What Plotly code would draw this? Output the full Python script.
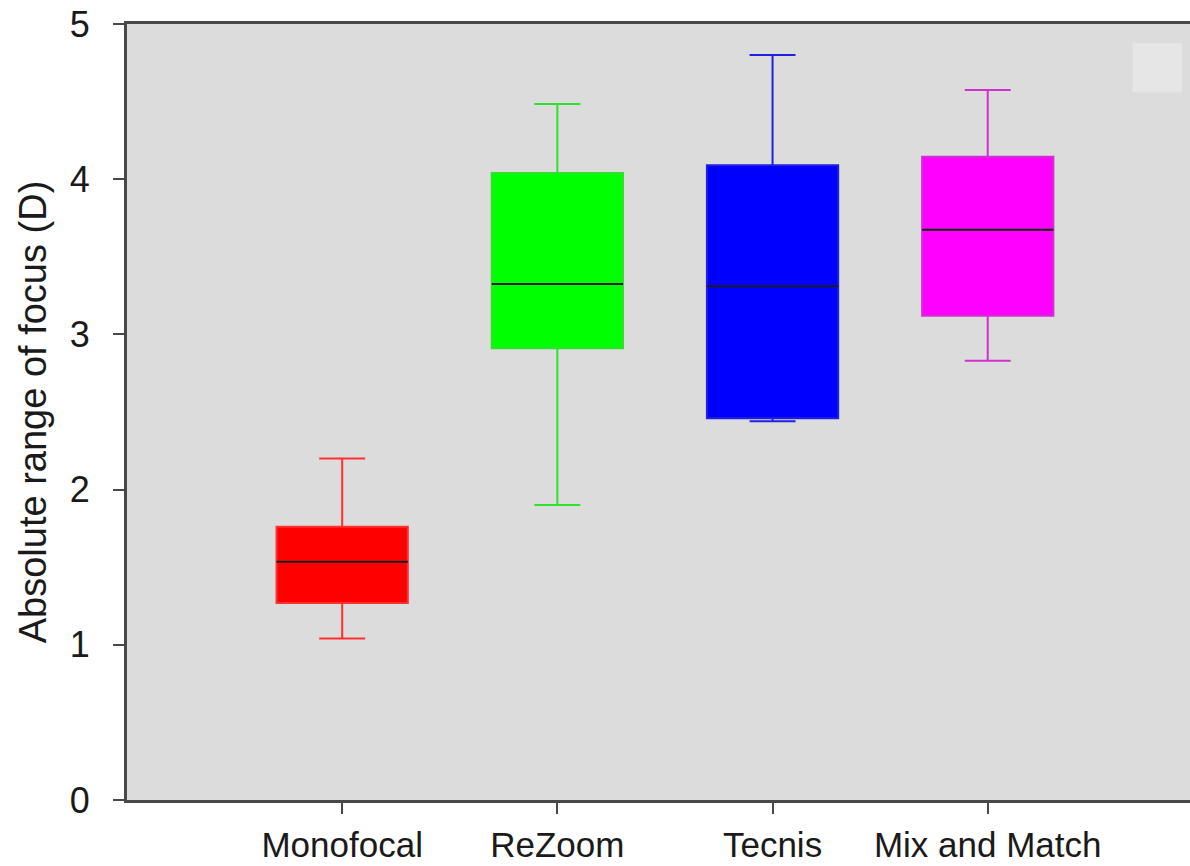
import plotly.graph_objects as go

categories = ["Monofocal", "ReZoom", "Tecnis", "Mix and Match"]
lower_whisker = [1.04, 1.90, 2.44, 2.83]
q1_values = [1.27, 2.91, 2.46, 3.12]
median_values = [1.535, 3.325, 3.31, 3.675]
q3_values = [1.76, 4.04, 4.09, 4.145]
upper_whisker = [2.20, 4.485, 4.80, 4.575]
colors = ["#ff0000", "#00ff00", "#0000ff", "#ff00ff"]
whisker_colors = ["#ff3030", "#30e030", "#2020e0", "#d030d0"]
y_ticks = [0, 1, 2, 3, 4, 5]

BOX_W = 0.61
FONT = "Liberation Sans, Arial, sans-serif"

fig = go.Figure()
for i, cat in enumerate(categories):
    fig.add_trace(go.Box(
        x=[i], q1=[q1_values[i]], median=[median_values[i]], q3=[q3_values[i]],
        lowerfence=[lower_whisker[i]], upperfence=[upper_whisker[i]],
        name=cat, width=BOX_W, whiskerwidth=0.35,
        fillcolor=colors[i], line=dict(color=whisker_colors[i], width=2),
        boxpoints=False, showlegend=False, hoverinfo="skip",
    ))
    fig.add_trace(go.Scatter(
        x=[i - BOX_W / 2, i + BOX_W / 2], y=[median_values[i], median_values[i]],
        mode="lines", line=dict(color="#1a1a1a", width=2),
        showlegend=False, hoverinfo="skip",
    ))

fig.update_layout(
    width=1190, height=866,
    margin=dict(l=127, r=0, t=24, b=66),
    paper_bgcolor="white", plot_bgcolor="#dcdcdc",
    font=dict(family=FONT, size=36, color="#1a1a1a"),
    xaxis=dict(
        range=[-1.0, 3.94], tickvals=list(range(len(categories))), ticktext=categories,
        showgrid=False, zeroline=False, showline=True, linecolor="#484848", linewidth=3,
        mirror=True, ticks="outside", ticklen=11, tickwidth=2, tickcolor="#484848",
        tickfont=dict(size=35), ticklabelstandoff=1, automargin=False,
    ),
    yaxis=dict(
        range=[0, 5], tickvals=y_ticks, showgrid=False, zeroline=False,
        showline=True, linecolor="#484848", linewidth=3,
        ticks="outside", ticklen=11, tickwidth=2, tickcolor="#484848",
        tickfont=dict(size=36), ticklabelstandoff=16, automargin=False,
        title=dict(text="Absolute range of focus (D)", font=dict(size=38), standoff=12),
    ),
    shapes=[dict(type="rect", xref="paper", yref="paper", x0=0.946, x1=0.9925,
                 y0=0.912, y1=0.9755, fillcolor="#e6e6e6", line=dict(width=0), layer="above")],
)

fig.write_html(
    "out.html",
    config={"displayModeBar": False},
    post_script="document.body.style.margin='0';document.body.style.overflow='hidden';",
)
